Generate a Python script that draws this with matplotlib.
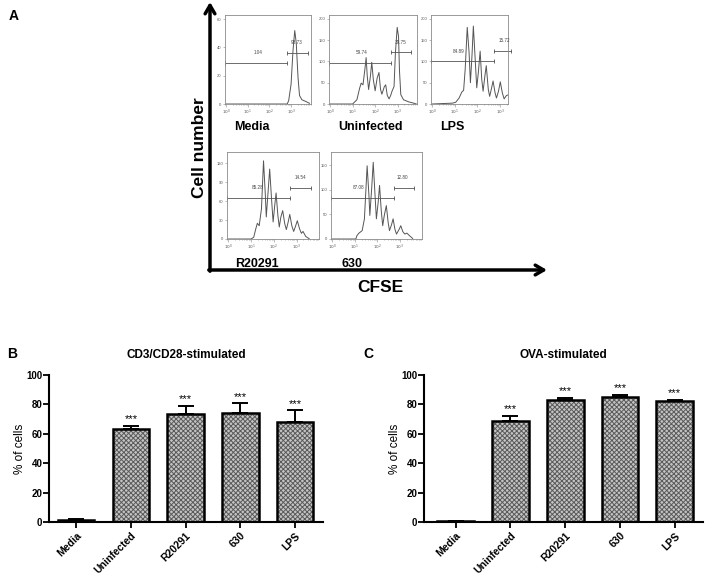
import numpy as np
import matplotlib.pyplot as plt

plt.rcParams['font.family'] = ['Liberation Sans', 'DejaVu Sans']
plt.rcParams['hatch.linewidth'] = 0.7

# ---------------- Panel A: CFSE histograms (x = log10 fluorescence) ----------------
hist_names = ['Media', 'Uninfected', 'LPS', 'R20291', '630']

media_x = [0.0, 2.82, 2.89, 3.0, 3.09, 3.17, 3.24, 3.32, 3.39, 3.5, 3.65, 3.85]
media_y = [0, 0, 2.4, 14, 38, 52, 43, 19, 6, 3, 2, 0.5]

uninf_x = [0.0, 1.0, 1.19, 1.31, 1.38, 1.46, 1.55, 1.6, 1.65, 1.71, 1.79, 1.85, 1.92, 2.0,
           2.09, 2.17, 2.24, 2.3, 2.41, 2.47, 2.54, 2.62, 2.69, 2.75, 2.84, 2.9, 2.98,
           3.04, 3.08, 3.14, 3.26, 3.49, 3.71, 3.83]
uninf_y = [0, 0, 10, 37, 49, 45, 84, 109, 65, 34, 65, 98, 57, 31,
           61, 74, 34, 23, 41, 45, 20, 12, 20, 30, 41, 119, 180,
           158, 80, 22, 10, 5, 2, 0]

lps_x = [0.0, 0.9, 1.04, 1.19, 1.31, 1.39, 1.46, 1.55, 1.63, 1.69, 1.76, 1.82, 1.9, 1.97,
         2.04, 2.12, 2.19, 2.25, 2.33, 2.39, 2.48, 2.54, 2.61, 2.69, 2.78, 2.84, 2.93,
         3.01, 3.1, 3.18, 3.28, 3.39]
lps_y = [0, 2, 4, 14, 28, 32, 82, 180, 122, 50, 114, 183, 106, 38,
         74, 124, 58, 30, 66, 90, 34, 18, 34, 54, 26, 14, 30,
         52, 26, 12, 20, 22]

r20291_x = [0.0, 1.0, 1.12, 1.21, 1.28, 1.36, 1.46, 1.55, 1.63, 1.67, 1.75, 1.82, 1.9, 1.97,
            2.04, 2.1, 2.18, 2.24, 2.31, 2.39, 2.48, 2.55, 2.63, 2.7, 2.79, 2.87, 2.94,
            3.03, 3.13, 3.21, 3.28, 3.4, 3.55]
r20291_y = [0, 0, 2.7, 16, 25, 21, 48, 124, 69, 35, 75, 111, 64, 27,
            53, 73, 37, 19, 35, 45, 24, 15, 27, 39, 21, 12, 19,
            29, 16, 9, 12, 4, 0.5]

c630_x = [0.0, 1.05, 1.1, 1.19, 1.33, 1.43, 1.55, 1.63, 1.67, 1.75, 1.82, 1.9, 1.96, 2.04,
          2.1, 2.18, 2.24, 2.31, 2.4, 2.48, 2.54, 2.63, 2.7, 2.78, 2.85, 2.96, 3.04,
          3.13, 3.22, 3.31, 3.42, 3.57]
c630_y = [0, 0, 7, 12, 17, 41, 149, 89, 48, 102, 156, 89, 41, 75,
          109, 55, 27, 48, 68, 34, 17, 29, 41, 20, 10, 19, 27,
          15, 10, 12, 7, 1]

hist_x = [media_x, uninf_x, lps_x, r20291_x, c630_x]
hist_y = [media_y, uninf_y, lps_y, r20291_y, c630_y]
hist_ytop = [63, 209, 209, 138, 177]
hist_yticks = [[0, 20, 40, 60], [0, 50, 100, 150, 200], [0, 50, 100, 150, 200],
               [0, 30, 60, 90, 120], [0, 50, 100, 150]]
hist_xright = [3.92, 3.86, 3.35, 3.98, 3.98]

# gates: split point (log10), y of the "divided" gate, y of the undivided gate, right end
gate_split = [2.82, 2.69, 2.73, 2.73, 2.74]
gate_low_y = [29.3, 97, 100, 65, 83]
gate_high_y = [36.4, 121, 124, 81, 104]
gate_high_end = [3.76, 3.6, 3.5, 3.63, 3.63]
pct_divided = ['1.04', '59.74', '84.89', '85.28', '87.08']
pct_undivided = ['98.73', '39.75', '15.72', '14.54', '12.80']
pct_div_x = [1.5, 1.38, 1.19, 1.28, 1.18]
pct_undiv_x = [3.27, 3.14, 3.18, 3.15, 3.13]

# ---------------- Panels B and C: bar charts ----------------
groups = ['Media', 'Uninfected', 'R20291', '630', 'LPS']
cd3_mean = [1.6, 63.1, 73.3, 74.4, 68.1]
cd3_err = [0.7, 2.5, 5.9, 6.4, 7.9]
ova_mean = [0.7, 69.0, 83.0, 85.1, 82.6]
ova_err = [0.4, 3.4, 1.6, 1.6, 0.7]
stars = ['', '***', '***', '***', '***']

W, H = 712, 583
fig = plt.figure(figsize=(W / 100, H / 100), dpi=100)

# overlay in pixel coordinates for arrows and free text
ov = fig.add_axes([0, 0, 1, 1])
ov.set_xlim(0, W)
ov.set_ylim(H, 0)
ov.axis('off')


def px_axes(l, t, r, b):
    return fig.add_axes([l / W, 1 - b / H, (r - l) / W, (b - t) / H])


ov.text(14, 16, 'A', fontsize=10, fontweight='bold', ha='center', va='center')
ov.text(12, 354, 'B', fontsize=10, fontweight='bold', ha='center', va='center')
ov.text(368, 354, 'C', fontsize=10, fontweight='bold', ha='center', va='center')

arrow = dict(arrowstyle='->,head_length=0.6,head_width=0.35', lw=2.5, color='k',
             shrinkA=0, shrinkB=0)
ov.annotate('', xy=(210, 2), xytext=(210, 271.2), arrowprops=arrow)
ov.annotate('', xy=(547, 270), xytext=(208.8, 270), arrowprops=arrow)
ov.text(199, 148, 'Cell number', rotation=90, fontsize=12.5, fontweight='bold',
        ha='center', va='center')
ov.text(380, 288, 'CFSE', fontsize=12.5, fontweight='bold', ha='center', va='center')

hist_rects = [(225, 15, 311, 104), (329, 15, 417, 104), (431, 15, 508, 104),
              (227, 152, 319, 239), (331, 152, 422, 239)]
name_pos = [(234, 127), (338, 127), (440, 127), (235, 264), (342, 264)]

for i in range(5):
    ax = px_axes(*hist_rects[i])
    ax.plot(10 ** np.array(hist_x[i]), hist_y[i], color='#555555', lw=0.7)
    ax.set_xscale('log')
    ax.set_xlim(10 ** -0.05, 10 ** hist_xright[i])
    ax.set_ylim(0, hist_ytop[i])
    ax.set_xticks([1, 10, 100, 1000])
    ax.set_xticklabels(['$10^0$', '$10^1$', '$10^2$', '$10^3$'])
    ax.set_yticks(hist_yticks[i])
    for s in ax.spines.values():
        s.set_color('#8a8a8a')
        s.set_linewidth(0.6)
    ax.tick_params(which='both', direction='out', colors='#8a8a8a', labelsize=3,
                   width=0.4, pad=1, labelcolor='#555555')
    ax.tick_params(which='major', length=1.8)
    ax.tick_params(which='minor', length=1)
    ax.set_facecolor('none')

    ytop = hist_ytop[i]
    x0 = 10 ** -0.05
    xs = 10 ** gate_split[i]
    xe = 10 ** gate_high_end[i]
    ax.plot([x0, xs], [gate_low_y[i], gate_low_y[i]], color='#555555', lw=0.6,
            marker='|', markersize=3, markeredgewidth=0.6, clip_on=False)
    ax.plot([xs, xe], [gate_high_y[i], gate_high_y[i]], color='#555555', lw=0.6,
            marker='|', markersize=3, markeredgewidth=0.6, clip_on=False)
    ax.text(10 ** pct_div_x[i], gate_high_y[i], pct_divided[i], fontsize=3.3,
            color='#444444', ha='center', va='center')
    ax.text(10 ** pct_undiv_x[i], gate_high_y[i] + 0.115 * ytop, pct_undivided[i],
            fontsize=3.3, color='#444444', ha='center', va='center')

    ov.text(name_pos[i][0], name_pos[i][1], hist_names[i], fontsize=9,
            fontweight='bold', ha='left', va='center')


def bar_panel(rect, means, errs, title, xleft):
    ax = fig.add_axes(rect)
    x = np.arange(len(groups))
    ax.bar(x, means, width=0.67, color='#c4c4c4', edgecolor='#5a5a5a', hatch='xxxxxxx',
           lw=0, zorder=2)
    ax.bar(x, means, width=0.67, facecolor='none', edgecolor='k', lw=1.8, zorder=3)
    ax.errorbar(x, means, yerr=[np.zeros(len(errs)), errs], fmt='none', ecolor='k',
                elinewidth=1.4, capsize=6, capthick=1.4, zorder=4)
    for xi, m, e, s in zip(x, means, errs, stars):
        if s:
            ax.text(xi, m + e + 0.8, s, ha='center', va='bottom', fontsize=8)
    ax.set_xlim(xleft, 4.51)
    ax.set_ylim(0, 100)
    ax.set_yticks([0, 20, 40, 60, 80, 100])
    ax.set_xticks(x)
    ax.set_xticklabels(groups, rotation=45, ha='right', rotation_mode='anchor',
                       fontsize=7.5, fontweight='bold')
    for lab in ax.get_yticklabels():
        lab.set_fontweight('bold')
    ax.tick_params(axis='y', labelsize=7, length=4, width=1.3, pad=1)
    ax.tick_params(axis='x', length=4, width=1.3, pad=2)
    for s in ['top', 'right']:
        ax.spines[s].set_visible(False)
    for s in ['left', 'bottom']:
        ax.spines[s].set_linewidth(1.5)
    ax.set_ylabel('% of cells', fontsize=8.5, labelpad=0)
    ax.set_title(title, fontsize=8.5, fontweight='bold', pad=12)
    return ax


bar_panel([49.3 / W, 1 - 522.3 / H, (323 - 49.3) / W, 147.3 / H],
          cd3_mean, cd3_err, 'CD3/CD28-stimulated', -0.49)
bar_panel([424.3 / W, 1 - 522.3 / H, (702.7 - 424.3) / W, 147.3 / H],
          ova_mean, ova_err, 'OVA-stimulated', -0.57)

fig.savefig('out.png', dpi=100)
